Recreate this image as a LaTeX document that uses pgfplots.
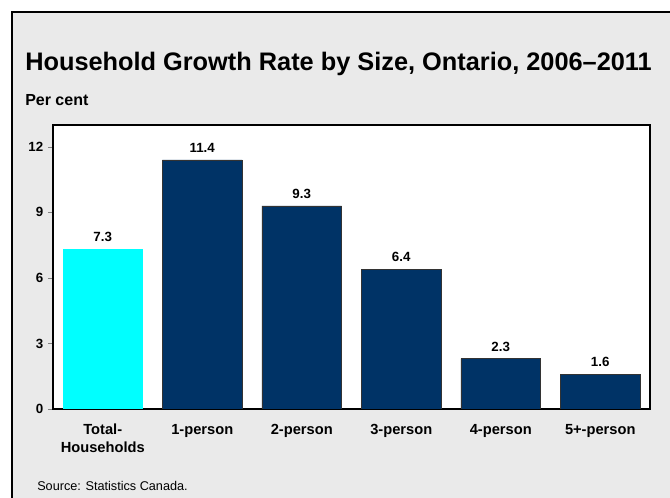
\documentclass[border=0pt]{standalone}
\usepackage{pgfplots}
\pgfplotsset{compat=1.18}
\usepackage{fontspec}
\setmainfont{Liberation Sans}
\definecolor{bggray}{RGB}{234,234,234}
\definecolor{navy}{RGB}{0,51,102}
\definecolor{cyanbar}{RGB}{0,255,255}
\begin{document}
\begin{tikzpicture}[x=0.75pt,y=0.75pt]
\useasboundingbox (0,0) rectangle (670,498);
\fill[white] (0,0) rectangle (670,498);
\fill[bggray] (12,0) rectangle (672,486);
\draw[line width=1.5pt] (12,-2) -- (12,486) -- (672,486);
\node[anchor=base west,inner sep=0,font=\bfseries\fontsize{19}{22}\selectfont] at (25,427) {Household Growth Rate by Size, Ontario, 2006–2011};
\node[anchor=base west,inner sep=0,font=\bfseries\fontsize{12}{14}\selectfont] at (25,392) {Per cent};
\node[anchor=base west,inner sep=0,font=\fontsize{9.5}{11}\selectfont] at (37,7) {Source: Statistics Canada.};
\begin{axis}[
  at={(39.75pt,66.75pt)}, anchor=south west,
  scale only axis, width=447.75pt, height=213pt,
  axis background/.style={fill=white},
  xmin=-0.5, xmax=5.5, ymin=0, ymax=13,
  ytick={0,3,6,9,12},
  xtick={0,1,2,3,4,5},
  xticklabels={{Total-\\Households},1-person,2-person,3-person,4-person,5+-person},
  x tick label style={align=center,font=\bfseries\fontsize{11}{13.5}\selectfont,yshift=-4pt},
  y tick label style={font=\bfseries\fontsize{10}{12}\selectfont},
  /pgf/number format/assume math mode=true,
  tick align=outside, ytick pos=left, xtick pos=bottom,
  x tick style={draw=none},
  major tick length=3.75pt,
  axis line style={black, line width=0.8pt},
  ybar, bar width=0.8, bar shift=0pt,
  nodes near coords,
  every node near coord/.append style={font=\bfseries\fontsize{10}{12}\selectfont, yshift=2pt},
  nodes near coords style={/pgf/number format/.cd, fixed, fixed zerofill, precision=1},
]
\addplot[fill=cyanbar, draw=cyanbar] coordinates {(0,7.3)};
\addplot[fill=navy, draw=black!80, line width=0.4pt] coordinates {(1,11.4) (2,9.3) (3,6.4) (4,2.3) (5,1.6)};
\end{axis}
\end{tikzpicture}
\end{document}
